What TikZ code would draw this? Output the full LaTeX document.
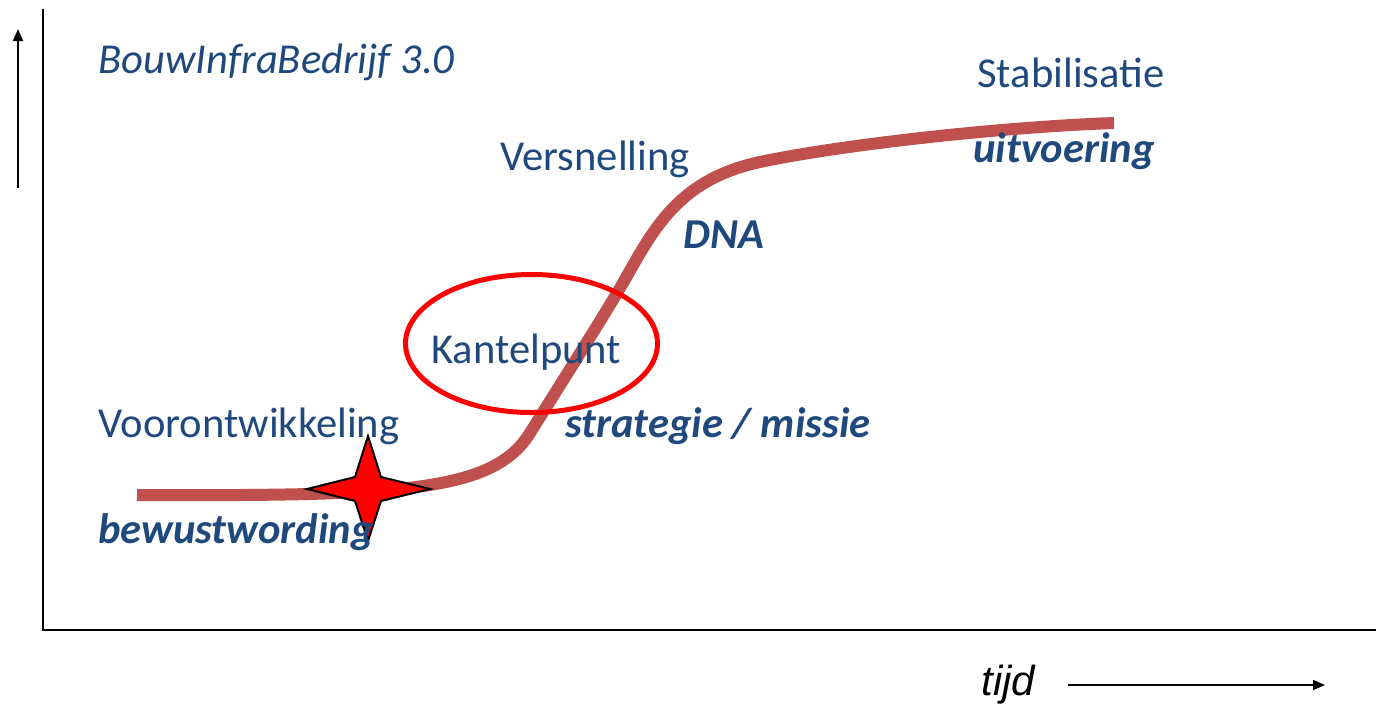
\documentclass[tikz,border=0pt]{standalone}
\usepackage{fontspec}
\setmainfont{Carlito}
\newfontfamily\arialfont{Liberation Sans}
\usetikzlibrary{arrows.meta}
\definecolor{txtblue}{HTML}{1F497D}
\definecolor{curvered}{HTML}{C0504D}
\tikzset{
  lbl/.style={anchor=base west, inner sep=0pt, text=txtblue, font=\fontsize{21.3}{25}\selectfont},
  lblit/.style={lbl, font=\fontsize{21.3}{25}\selectfont\itshape},
  lblbi/.style={lbl, font=\fontsize{21.3}{25}\selectfont\bfseries\itshape},
  axis/.style={line width=1pt, black},
  arr/.style={line width=0.8pt, black, -{Triangle[length=6pt,width=5pt]}}
}
\begin{document}
\begin{tikzpicture}[x=0.5pt,y=-0.5pt]
\useasboundingbox (0,0) rectangle (1376,707);
% axes
\coordinate (otop) at (43,9);
\coordinate (orig) at (43,630);
\coordinate (oright) at (1376,630);
\draw[axis] (otop) -- (orig) -- (oright);
\coordinate (ua0) at (18,188);
\coordinate (ua1) at (18,29);
\draw[arr] (ua0) -- (ua1);
\node[anchor=base west, inner sep=0pt, font=\arialfont\itshape\fontsize{21}{24}\selectfont] (tijd) at (981,695) {tijd};
\coordinate (ta0) at (1068,685);
\coordinate (ta1) at (1325,685);
\draw[arr] (ta0) -- (ta1);
% curve
\draw[curvered, line width=6pt]
  (137,495) .. controls (400,496) and (493,492.5) .. (530,433)
  .. controls (560,385) and (600,322) .. (620,288)
  .. controls (650,237) and (673,180.5) .. (760,162)
  .. controls (840,145) and (1000,127) .. (1114,123);
% ellipse
\draw[red, line width=2.5pt] (531.5,343.5) ellipse [x radius=126, y radius=69];
% star
\draw[fill=red, line width=1pt, line join=miter] (368,436) -- (381,477) -- (430,489) -- (381,501) -- (368,541) -- (355,501) -- (307,489) -- (355,477) -- cycle;
% labels
\node[lblit] (title) at (98,73) {BouwInfraBedrijf 3.0};
\node[lbl] (stab) at (977,87) {Stabilisatie};
\node[lblbi] (uitv) at (973,162) {uitvoering};
\node[lbl] (vers) at (500,170) {Versnelling};
\node[lblbi] (dna) at (683,248) {DNA};
\node[lbl] (kant) at (431,363) {Kantelpunt};
\node[lbl] (voor) at (98,437) {Voorontwikkeling};
\node[lblbi] (strat) at (565,437) {strategie / missie};
\node[lblbi] (bewust) at (98,543) {bewustwording};
\end{tikzpicture}
\end{document}
